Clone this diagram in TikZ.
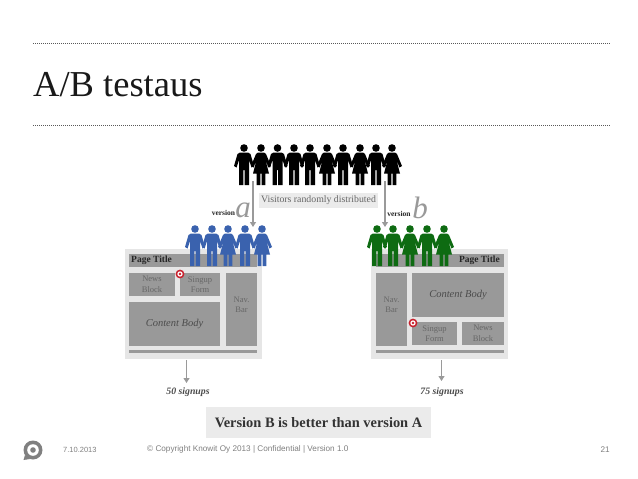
\documentclass[tikz,border=0pt]{standalone}
\usepackage{fontspec}
\setmainfont{Liberation Serif}
\newfontfamily\footfont{Liberation Sans}
\usetikzlibrary{arrows.meta}
\definecolor{panelbg}{HTML}{E6E6E6}
\definecolor{blockgray}{HTML}{999999}
\definecolor{arrowgray}{HTML}{9A9A9A}
\definecolor{labelbg}{HTML}{EBEBEB}
\definecolor{bluep}{HTML}{3A62AE}
\definecolor{greenp}{HTML}{0E6B12}
\definecolor{footgray}{HTML}{808080}
\definecolor{targetred}{HTML}{C8202C}
\tikzset{
  x=1pt,y=-1pt,
  rule/.style={line width=1pt,dash pattern=on 1pt off 1pt,color=black!65},
  panel/.style={fill=panelbg,draw=none},
  block/.style={fill=blockgray,draw=none},
  blocktext/.style={font=\fontsize{8.5}{10.5}\selectfont,text=black!60,align=center,inner sep=0pt},
  bodytext/.style={font=\fontsize{10.5}{11}\selectfont\itshape,text=black!70,inner sep=0pt},
  pagetitle/.style={font=\fontsize{9.5}{10}\selectfont\bfseries,text=black!85,inner sep=0pt},
  flow/.style={draw=arrowgray,line width=1.1pt,-{Triangle[length=5pt,width=6pt]}},
  verlabel/.style={font=\fontsize{7.5}{8}\selectfont\bfseries,text=black!85,inner sep=0pt},
  bigletter/.style={font=\fontsize{31}{31}\selectfont\itshape,text=black!40,inner sep=0pt},
  signup/.style={font=\fontsize{9.8}{10}\selectfont\bfseries\itshape,text=black!70,inner sep=0pt},
  foot/.style={font=\footfont\fontsize{7.5}{8}\selectfont,text=footgray,inner sep=0pt},
  footwide/.style={font=\footfont\fontsize{8.2}{9}\selectfont,text=footgray,inner sep=0pt},
  pics/man/.style={code={
    \fill[#1] (0,0) circle (3.8);
    \fill[#1] (-4,4.5)--(4,4.5)--(6.5,6)--(10,18)--(7.5,19.5)--(5,12)--(5,37)--(0.6,37)--(0.6,22)--(-0.6,22)--(-0.6,37)--(-5,37)--(-5,12)--(-7.5,19.5)--(-10,18)--(-6.5,6)--cycle;
  }},
  pics/woman/.style={code={
    \fill[#1] (0,0) circle (3.8);
    \fill[#1] (-3,4.5)--(3,4.5)--(5,6)--(10,18)--(7.5,19.5)--(4.5,12)--(8,25.5)--(4.4,25.5)--(4.4,37)--(0.6,37)--(0.6,25.5)--(-0.6,25.5)--(-0.6,37)--(-4.4,37)--(-4.4,25.5)--(-8,25.5)--(-4.5,12)--(-7.5,19.5)--(-10,18)--(-5,6)--cycle;
  }},
  pics/target/.style={code={
    \fill[targetred] (0,0) circle (4.4);
    \fill[white] (0,0) circle (2.7);
    \fill[targetred] (0,0) circle (1.4);
  }},
}
\begin{document}
\begin{tikzpicture}
\useasboundingbox (0,0) rectangle (638,479);
\fill[white] (0,0) rectangle (638,479);
% header
\coordinate (ruleAw) at (33,43); \coordinate (ruleAe) at (610,43);
\coordinate (ruleBw) at (33,125); \coordinate (ruleBe) at (610,125);
\draw[rule] (ruleAw)--(ruleAe);
\draw[rule] (ruleBw)--(ruleBe);
\node[anchor=base west,inner sep=0pt,font=\fontsize{36.5}{36}\selectfont,text=black!90] (title) at (33,96) {A/B testaus};
% crowd
\foreach \x/\k in {244/man,261/woman,277.5/man,294/man,310/man,327/woman,343/man,360/woman,376/man,392/woman}
  \pic at (\x,148) {\k=black};
\node[fill=labelbg,minimum width=119pt,minimum height=15pt,inner sep=0pt,font=\fontsize{9.8}{10}\selectfont,text=black!60] (visitors) at (318.5,200.5) {Visitors randomly distributed};
% left panel
\fill[panel] (125,249) rectangle (262,359);
\fill[block] (129,254) rectangle (257,267);
\node[pagetitle,anchor=west] (ltitle) at (131,260.5) {Page Title};
\fill[block] (129,273) rectangle (175,296);
\node[blocktext] (lnews) at (152,284.5) {News\\Block};
\fill[block] (180,273) rectangle (220,296);
\node[blocktext] (lform) at (200,284.5) {Singup\\Form};
\fill[block] (226,273) rectangle (257,346);
\node[blocktext] (lnav) at (241.5,305) {Nav.\\Bar};
\fill[block] (129,302) rectangle (220,346);
\node[bodytext] (lbody) at (174.5,324) {Content Body};
\fill[block] (129,350) rectangle (257,353);
\pic at (180,274) {target};
% right panel
\fill[panel] (371,249) rectangle (508,359);
\fill[block] (376,254) rectangle (504,267);
\node[pagetitle,anchor=east] (rtitle) at (500,260.5) {Page Title};
\fill[block] (376,273) rectangle (407,346);
\node[blocktext] (rnav) at (391.5,305) {Nav.\\Bar};
\fill[block] (412,273) rectangle (504,317);
\node[bodytext] (rbody) at (458,295) {Content Body};
\fill[block] (412,322) rectangle (457,345);
\node[blocktext] (rform) at (434.5,333.5) {Singup\\Form};
\fill[block] (462,322) rectangle (504,345);
\node[blocktext] (rnews) at (483,333.5) {News\\Block};
\fill[block] (376,350) rectangle (504,353);
\pic at (413,323) {target};
% version groups
\foreach \x/\k in {195/man,212/man,228/woman,245/man,262/woman}
  \pic at (\x,229) {\k=bluep};
\foreach \x/\k in {377/man,393/man,410/woman,427/man,444/woman}
  \pic at (\x,229) {\k=greenp};
% version labels
\node[verlabel] (vera) at (223.5,213) {version};
\node[bigletter] (leta) at (243,210) {a};
\node[verlabel] (verb) at (399,214) {version};
\node[bigletter] (letb) at (420,208) {b};
% arrows
\coordinate (asrc) at (253,181); \coordinate (adst) at (253,227);
\coordinate (bsrc) at (385,181); \coordinate (bdst) at (385,227);
\draw[flow] (asrc)--(adst);
\draw[flow] (bsrc)--(bdst);
\node[signup] (s50) at (188,392) {50 signups};
\node[signup] (s75) at (442,392) {75 signups};
\coordinate (lout) at (186.5,360); \coordinate (rout) at (441.5,360);
\coordinate (lin) at (186.5,383); \coordinate (rin) at (441.5,381);
\draw[flow] (lout)--(lin);
\draw[flow] (rout)--(rin);
% verdict
\node[fill=labelbg,minimum width=225pt,minimum height=31pt,inner sep=0pt,font=\fontsize{14.4}{15}\selectfont\bfseries,text=black!80] (verdict) at (318.5,422.5) {Version B is better than version A};
% footer
\fill[footgray] (33,450) circle (9.5);
\fill[footgray] (25,455)--(23.5,460)--(30,459)--cycle;
\fill[white] (33,450) circle (5.8);
\fill[footgray] (33,450) circle (2.8);
\node[foot,anchor=west] (date) at (63,449.5) {7.10.2013};
\node[footwide,anchor=west] (copy) at (147,449.5) {© Copyright Knowit Oy 2013 | Confidential | Version 1.0};
\node[footwide,anchor=east] (page) at (610,449.5) {21};
\end{tikzpicture}
\end{document}
